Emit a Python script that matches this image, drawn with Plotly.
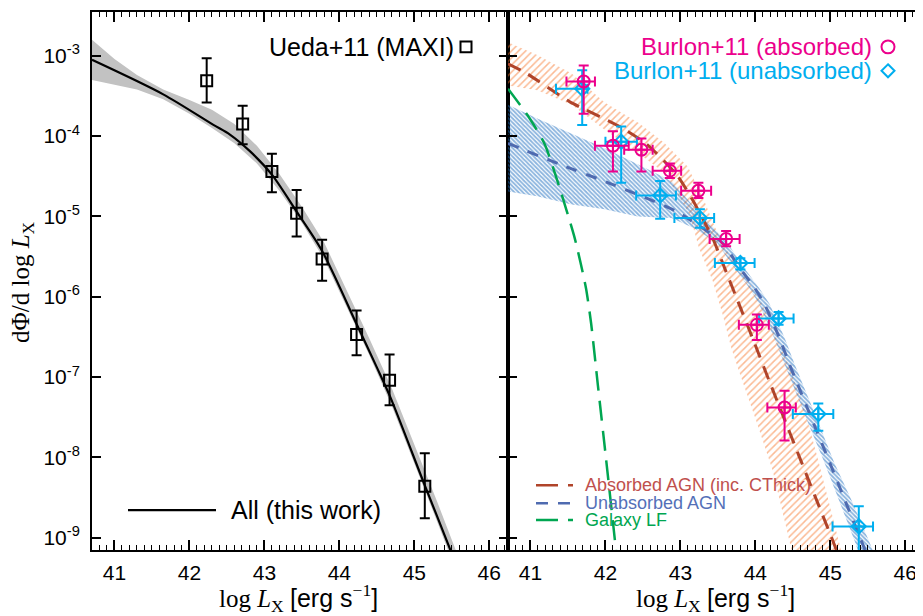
import numpy as np
import plotly.graph_objects as go

# ---------------- data ----------------
# Left panel: model "All (this work)" (log L_X, log dPhi/dlogL)
all_logL   = [40.70, 41.65, 42.32, 42.54, 42.81, 43.10, 43.43, 43.77, 44.23, 44.50, 44.68, 45.14, 45.48, 45.60]
all_logphi = [-3.05, -3.48, -3.86, -3.98, -4.19, -4.48, -4.94, -5.43, -6.34, -6.88, -7.25, -8.35, -9.15, -9.45]

# grey uncertainty band of the model
band_logL = [40.70, 41.0, 41.3, 41.65, 42.0, 42.3, 42.6, 42.9, 43.2, 43.5, 43.8, 44.1, 44.4, 44.7, 45.0, 45.3, 45.6]
band_hi   = [-2.80, -3.04, -3.24, -3.42, -3.55, -3.67, -3.85, -4.12, -4.47, -4.88, -5.33, -5.92, -6.52, -7.14, -7.83, -8.54, -9.27]
band_lo   = [-3.30, -3.36, -3.42, -3.54, -3.72, -3.90, -4.09, -4.34, -4.68, -5.08, -5.54, -6.13, -6.73, -7.36, -8.07, -8.79, -9.52]

# Ueda+11 (MAXI)
ueda_logL   = [42.23, 42.71, 43.10, 43.43, 43.77, 44.23, 44.67, 45.14]
ueda_logphi = [-3.31, -3.85, -4.44, -4.96, -5.53, -6.47, -7.04, -8.36]
ueda_hi     = [-3.03, -3.62, -4.22, -4.67, -5.29, -6.17, -6.72, -7.95]
ueda_lo     = [-3.58, -4.10, -4.70, -5.25, -5.80, -6.73, -7.35, -8.76]

# Right panel: Burlon+11 absorbed
abs_logL   = [41.71, 42.10, 42.48, 42.86, 43.24, 43.61, 44.02, 44.39]
abs_logphi = [-3.32, -4.12, -4.17, -4.43, -4.68, -5.28, -6.35, -7.38]
abs_hi     = [-3.12, -3.94, -4.03, -4.34, -4.58, -5.18, -6.22, -7.17]
abs_lo     = [-3.72, -4.44, -4.44, -4.52, -4.77, -5.37, -6.54, -7.79]
abs_Lmin   = [41.48, 41.86, 42.25, 42.63, 43.01, 43.39, 43.78, 44.16]
abs_Lmax   = [41.86, 42.31, 42.63, 43.01, 43.41, 43.79, 44.18, 44.54]

# Burlon+11 unabsorbed
unabs_logL   = [41.69, 42.21, 42.73, 43.26, 43.80, 44.31, 44.84, 45.38]
unabs_logphi = [-3.41, -4.07, -4.74, -5.02, -5.58, -6.27, -7.46, -8.86]
unabs_hi     = [-3.18, -3.88, -4.56, -4.91, -5.52, -6.19, -7.33, -8.61]
unabs_lo     = [-3.86, -4.58, -5.03, -5.14, -5.66, -6.35, -7.67, -9.40]
unabs_Lmin   = [41.34, 42.00, 42.41, 42.92, 43.46, 44.05, 44.50, 45.03]
unabs_Lmax   = [41.76, 42.42, 42.94, 43.45, 43.99, 44.51, 45.04, 45.57]

# Absorbed AGN model (inc. CThick) and its band
absagn_logL   = [40.70, 40.95, 41.52, 42.19, 42.55, 42.95, 43.16, 43.43, 43.61, 43.76, 43.99, 44.19, 44.39, 44.59, 44.79, 45.03, 45.12]
absagn_logphi = [-3.10, -3.22, -3.57, -3.88, -4.10, -4.48, -4.79, -5.27, -5.69, -6.04, -6.58, -7.06, -7.53, -8.00, -8.47, -9.03, -9.25]
absband_up_logL = [40.70, 41.09, 41.55, 41.99, 42.45, 42.79, 43.10, 43.32, 43.54, 43.77, 43.96, 44.09, 44.28, 44.45, 44.66, 44.84, 45.15]
absband_up_phi  = [-2.83, -2.99, -3.22, -3.58, -3.84, -4.09, -4.38, -4.81, -5.31, -5.64, -5.89, -6.09, -6.51, -6.86, -7.42, -8.04, -9.18]
absband_lo_logL = [40.70, 41.09, 41.55, 41.99, 42.45, 42.79, 43.12, 43.25, 43.43, 43.56, 43.68, 43.79, 44.01, 44.23, 44.49]
absband_lo_phi  = [-3.37, -3.43, -3.61, -3.92, -4.22, -4.46, -4.97, -5.40, -5.80, -6.21, -6.64, -6.95, -7.54, -8.16, -9.18]

# Unabsorbed AGN model and its band
unagn_logL   = [40.70, 41.39, 42.09, 42.95, 43.56, 43.79, 43.99, 44.12, 44.32, 44.45, 44.56, 44.76, 44.99, 45.21, 45.41, 45.48]
unagn_logphi = [-4.09, -4.35, -4.60, -4.94, -5.33, -5.64, -5.89, -6.09, -6.51, -6.83, -7.08, -7.54, -8.06, -8.57, -9.03, -9.19]
unband_up_logL = [40.70, 41.09, 41.55, 41.99, 42.43, 42.88, 43.19, 43.63, 43.85, 44.05, 44.19, 44.39, 44.52, 44.63, 44.83, 45.05, 45.30, 45.51, 45.58]
unband_up_phi  = [-3.61, -3.78, -3.97, -4.15, -4.35, -4.56, -4.89, -5.33, -5.64, -5.89, -6.09, -6.51, -6.83, -7.08, -7.54, -8.06, -8.57, -9.03, -9.19]
unband_lo_logL = [40.70, 41.09, 41.55, 41.99, 42.43, 42.88, 43.19, 43.49, 43.72, 43.92, 44.05, 44.25, 44.39, 44.49, 44.69, 44.92, 45.13, 45.32, 45.38]
unband_lo_phi  = [-4.69, -4.75, -4.85, -4.91, -5.00, -5.02, -5.15, -5.33, -5.64, -5.89, -6.09, -6.51, -6.83, -7.08, -7.54, -8.06, -8.57, -9.03, -9.19]

# Galaxy LF
gal_logL   = [40.70, 40.99, 41.19, 41.36, 41.59, 41.74, 41.81, 41.90, 42.00, 42.14, 42.20]
gal_logphi = [-3.41, -3.78, -4.10, -4.56, -5.27, -5.89, -6.34, -7.11, -7.95, -9.15, -9.65]

x_ticks = [41, 42, 43, 44, 45, 46]
y_exps = [-9, -8, -7, -6, -5, -4, -3]
y_ticktext = ["10<sup>%d</sup>" % e for e in y_exps]

# ---------------- styling ----------------
MAGENTA = "#EC008C"
CYAN = "#00AEEF"
BROWN = "#B0442A"
BROWN_TXT = "#C0504D"
BLUE = "#4F6BB0"
BLUE_TXT = "#5470B8"
GREEN = "#00A651"
ORANGE = "#F7762A"
HATCHBLUE = "#1A6BBE"
GREY = "#C2C2C2"
SANS = "Liberation Sans"
SERIF = "Liberation Serif"

# page offset (browser body margin) handled through margins below
W, H = 923, 616
OFF = 8
PL, PR, PT, PB = 92, 924, 10, 550   # plot area in window pixels


def lin(a):
    return 10.0 ** np.asarray(a, dtype=float)


fig = go.Figure()

# ----- left panel -----
fig.add_trace(go.Scatter(
    x=band_logL + band_logL[::-1],
    y=list(lin(band_hi)) + list(lin(band_lo[::-1])),
    fill="toself", fillcolor=GREY, line=dict(width=0), mode="lines",
    xaxis="x", yaxis="y", hoverinfo="skip"))
fig.add_trace(go.Scatter(
    x=all_logL, y=lin(all_logphi), mode="lines",
    line=dict(color="black", width=2.2, shape="spline", smoothing=0.8),
    xaxis="x", yaxis="y"))
uy = lin(ueda_logphi)
fig.add_trace(go.Scatter(
    x=ueda_logL, y=uy, mode="markers",
    marker=dict(symbol="square-open", size=11, color="black", line=dict(width=2, color="black")),
    error_y=dict(type="data", symmetric=False, array=lin(ueda_hi) - uy, arrayminus=uy - lin(ueda_lo),
                 color="black", thickness=2, width=5),
    xaxis="x", yaxis="y"))

# ----- right panel -----
fig.add_trace(go.Scatter(
    x=absband_up_logL + absband_lo_logL[::-1],
    y=list(lin(absband_up_phi)) + list(lin(absband_lo_phi[::-1])),
    fill="toself", fillcolor="rgba(0,0,0,0)", line=dict(width=0), mode="lines",
    fillpattern=dict(shape="/", fgcolor=ORANGE, bgcolor="rgba(255,255,255,0)", size=5, solidity=0.3),
    xaxis="x2", yaxis="y2", hoverinfo="skip"))
fig.add_trace(go.Scatter(
    x=unband_up_logL + unband_lo_logL[::-1],
    y=list(lin(unband_up_phi)) + list(lin(unband_lo_phi[::-1])),
    fill="toself", fillcolor="rgba(0,0,0,0)", line=dict(width=0), mode="lines",
    fillpattern=dict(shape="\\", fgcolor=HATCHBLUE, bgcolor="rgba(255,255,255,0)", size=3, solidity=0.62),
    xaxis="x2", yaxis="y2", hoverinfo="skip"))
fig.add_trace(go.Scatter(
    x=gal_logL, y=lin(gal_logphi), mode="lines",
    line=dict(color=GREEN, width=2.5, dash="20px,10px", shape="spline", smoothing=0.6),
    xaxis="x2", yaxis="y2"))
fig.add_trace(go.Scatter(
    x=unagn_logL, y=lin(unagn_logphi), mode="lines",
    line=dict(color=BLUE, width=3, dash="11px,10px", shape="spline", smoothing=0.6),
    xaxis="x2", yaxis="y2"))
fig.add_trace(go.Scatter(
    x=absagn_logL, y=lin(absagn_logphi), mode="lines",
    line=dict(color=BROWN, width=3, dash="14px,9px", shape="spline", smoothing=0.6),
    xaxis="x2", yaxis="y2"))

vy = lin(unabs_logphi)
fig.add_trace(go.Scatter(
    x=unabs_logL, y=vy, mode="markers",
    marker=dict(symbol="diamond-cross-open", size=11, color=CYAN, line=dict(width=2, color=CYAN)),
    error_y=dict(type="data", symmetric=False, array=lin(unabs_hi) - vy, arrayminus=vy - lin(unabs_lo),
                 color=CYAN, thickness=2, width=5),
    error_x=dict(type="data", symmetric=False,
                 array=np.array(unabs_Lmax) - np.array(unabs_logL),
                 arrayminus=np.array(unabs_logL) - np.array(unabs_Lmin),
                 color=CYAN, thickness=2, width=5),
    xaxis="x2", yaxis="y2"))
ay = lin(abs_logphi)
fig.add_trace(go.Scatter(
    x=abs_logL, y=ay, mode="markers",
    marker=dict(symbol="circle-cross-open", size=12, color=MAGENTA, line=dict(width=2, color=MAGENTA)),
    error_y=dict(type="data", symmetric=False, array=lin(abs_hi) - ay, arrayminus=ay - lin(abs_lo),
                 color=MAGENTA, thickness=2, width=5),
    error_x=dict(type="data", symmetric=False,
                 array=np.array(abs_Lmax) - np.array(abs_logL),
                 arrayminus=np.array(abs_logL) - np.array(abs_Lmin),
                 color=MAGENTA, thickness=2, width=5),
    xaxis="x2", yaxis="y2"))

# ---------------- axes ----------------
YR = [-9.154, -2.454]
XR = [40.7, 46.25]
SPLIT = (508 - PL) / float(PR - PL)
tickfont = dict(family=SANS, size=21, color="black")
xcommon = dict(showline=True, linecolor="black", linewidth=2, mirror="allticks",
               ticks="inside", ticklen=10, tickwidth=1.5, tickcolor="black",
               tickmode="array", tickvals=x_ticks, ticktext=[str(v) for v in x_ticks],
               minor=dict(ticks="inside", ticklen=5, dtick=0.1, tick0=41, tickwidth=1.2,
                          tickcolor="black", showgrid=False),
               showgrid=False, zeroline=False, tickfont=tickfont, ticklabelstandoff=3)
ycommon = dict(type="log", range=YR, showline=True, linecolor="black", linewidth=2,
               mirror="allticks", ticks="inside", ticklen=9, tickwidth=1.5, tickcolor="black",
               tickmode="array", tickvals=[10.0 ** e for e in y_exps], ticktext=y_ticktext,
               showgrid=False, zeroline=False, tickfont=tickfont)

fig.update_layout(
    width=W, height=H,
    margin=dict(l=PL - OFF, r=W - (PR - OFF), t=PT - OFF, b=H - (PB - OFF)),
    paper_bgcolor="white", plot_bgcolor="white",
    showlegend=False,
    xaxis=dict(xcommon, domain=[0, SPLIT], range=XR, anchor="y"),
    yaxis=dict(ycommon, domain=[0, 1], anchor="x", ticklabelstandoff=6),
    xaxis2=dict(xcommon, domain=[SPLIT, 1], range=XR, anchor="y2"),
    yaxis2=dict(ycommon, domain=[0, 1], anchor="x2", showticklabels=False),
)

# ---------------- legends / labels ----------------
ann = []
shapes = []


def dom_y(py):
    return (PB - py) / float(PB - PT)


def dom_xl(px):
    return (px - PL) / float(508 - PL)


def dom_xr(px):
    return (px - 508) / float(PR - 508)


def pap_x(px):
    return (px - PL) / float(PR - PL)


# left panel legend
ann.append(dict(text="Ueda+11 (MAXI)", xref="x domain", yref="y domain",
                x=dom_xl(456), y=dom_y(45), xanchor="right", yanchor="middle", showarrow=False,
                font=dict(family=SANS, size=25, color="black")))
shapes.append(dict(type="rect", xref="x domain", yref="y domain",
                   x0=dom_xl(460.5), x1=dom_xl(471.5), y0=dom_y(50.5), y1=dom_y(39.5),
                   line=dict(color="black", width=2)))
shapes.append(dict(type="line", xref="x domain", yref="y domain",
                   x0=dom_xl(128), x1=dom_xl(216), y0=dom_y(510), y1=dom_y(510),
                   line=dict(color="black", width=2.2)))
ann.append(dict(text="All (this work)", xref="x domain", yref="y domain",
                x=dom_xl(229), y=dom_y(510), xanchor="left", yanchor="middle", showarrow=False,
                font=dict(family=SANS, size=25, color="black")))

# right panel legend (top)
ann.append(dict(text="Burlon+11 (absorbed)", xref="x2 domain", yref="y2 domain",
                x=dom_xr(874), y=dom_y(45), xanchor="right", yanchor="middle", showarrow=False,
                font=dict(family=SANS, size=24, color=MAGENTA)))
shapes.append(dict(type="circle", xref="x2 domain", yref="y2 domain",
                   x0=dom_xr(881.5), x1=dom_xr(894.5), y0=dom_y(51.5), y1=dom_y(38.5),
                   line=dict(color=MAGENTA, width=2)))
ann.append(dict(text="Burlon+11 (unabsorbed)", xref="x2 domain", yref="y2 domain",
                x=dom_xr(874), y=dom_y(69), xanchor="right", yanchor="middle", showarrow=False,
                font=dict(family=SANS, size=24, color=CYAN)))
cx, cy = dom_xr(888), dom_y(69)
dx, dy = 6.5 / float(PR - 508), 6.5 / float(PB - PT)
shapes.append(dict(type="path", xref="x2 domain", yref="y2 domain",
                   path=f"M {cx},{cy+dy} L {cx+dx},{cy} L {cx},{cy-dy} L {cx-dx},{cy} Z",
                   line=dict(color=CYAN, width=2)))

# right panel legend (bottom)
for lab, col, tcol, dash, py in [
        ("Absorbed AGN (inc. CThick)", BROWN, BROWN_TXT, "22px,10px", 485),
        ("Unabsorbed AGN", BLUE, BLUE_TXT, "12px,10px", 503),
        ("Galaxy LF", GREEN, GREEN, "22px,10px", 520)]:
    shapes.append(dict(type="line", xref="x2 domain", yref="y2 domain",
                       x0=dom_xr(536), x1=dom_xr(573), y0=dom_y(py), y1=dom_y(py),
                       line=dict(color=col, width=2.5, dash=dash)))
    ann.append(dict(text=lab, xref="x2 domain", yref="y2 domain",
                    x=dom_xr(583), y=dom_y(py), xanchor="left", yanchor="middle", showarrow=False,
                    font=dict(family=SANS, size=18, color=tcol)))

# axis titles
xt = ("log <i>L</i><sub>X</sub> <span style='font-family:Liberation Sans'>[erg s</span>"
      "<sup>\u22121</sup><span style='font-family:Liberation Sans'>]</span>")
for xc in [298, 715]:
    ann.append(dict(text=xt, xref="paper", yref="paper", x=pap_x(xc), y=dom_y(598),
                    xanchor="center", yanchor="middle", showarrow=False,
                    font=dict(family=SERIF, size=25, color="black")))
ann.append(dict(text="d\u03a6/d log <i>L</i><sub>X</sub>", xref="paper", yref="paper",
                x=pap_x(23), y=dom_y(281), textangle=-90,
                xanchor="center", yanchor="middle", showarrow=False,
                font=dict(family=SERIF, size=25, color="black")))

fig.update_layout(annotations=ann, shapes=shapes)
fig.write_html("out.html")
